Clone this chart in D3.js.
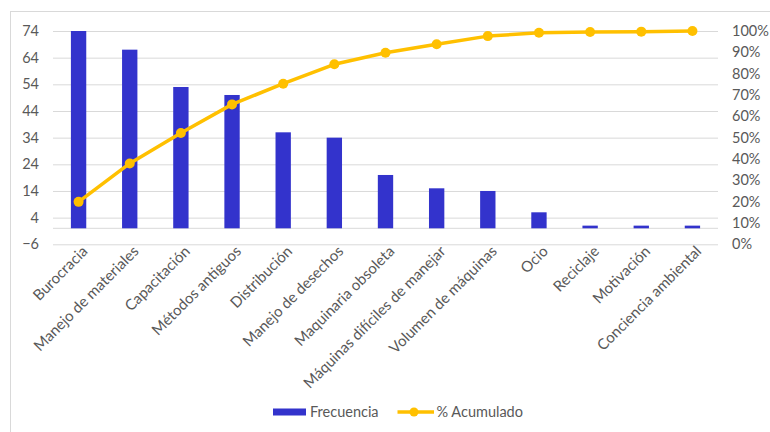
<!DOCTYPE html>
<html>
<head>
<meta charset="utf-8">
<script src="https://cdn.jsdelivr.net/npm/d3@7"></script>
<style>
  html, body { margin: 0; padding: 0; background: #fff; }
  svg { display: block; }
  text { font-family: Lato, "Liberation Sans", sans-serif; fill: #595959; }
</style>
</head>
<body>
<svg id="chart" width="770" height="432"></svg>
<script>
// Pareto data: causes, frequency and cumulative percentage
const categories = [
  "Burocracia", "Manejo de materiales", "Capacitación", "Métodos antiguos",
  "Distribución", "Manejo de desechos", "Maquinaria obsoleta",
  "Máquinas difíciles de manejar", "Volumen de máquinas", "Ocio",
  "Reciclaje", "Motivación", "Conciencia ambiental"
];
const frecuencia = [74, 67, 53, 50, 36, 34, 20, 15, 14, 6, 1, 1, 1];
const acumulado = [19.9, 37.9, 52.2, 65.6, 75.3, 84.4, 89.8, 93.8, 97.6, 99.2, 99.5, 99.7, 100];
const leftTicks = [-6, 4, 14, 24, 34, 44, 54, 64, 74];
const rightTicks = [0, 10, 20, 30, 40, 50, 60, 70, 80, 90, 100];

const svg = d3.select("#chart");
const plot = { left: 53, right: 718, top: 31, bottom: 244.3 };
const barColor = "#3333cc";
const lineColor = "#ffc000";
const gridColor = "#d9d9d9";
const axisFont = "14.5px";
const catFont = "15px";

// outer chart frame
svg.append("rect")
  .attr("x", 10.5).attr("y", 11.5)
  .attr("width", 800).attr("height", 500)
  .attr("fill", "none").attr("stroke", gridColor).attr("stroke-width", 1);

const x = d3.scaleBand()
  .domain(categories)
  .range([plot.left, plot.right])
  .paddingInner(0.7)
  .paddingOuter(0.35);

const y = d3.scaleLinear().domain([-6, 74]).range([plot.bottom, plot.top]);
const y2 = d3.scaleLinear().domain([0, 100]).range([plot.bottom, plot.top]);

// horizontal gridlines
const yAxis = d3.axisLeft(y)
  .tickValues(leftTicks)
  .tickSize(-(plot.right - plot.left))
  .tickPadding(14)
  .tickFormat(d3.format("d"));
const gy = svg.append("g")
  .attr("transform", `translate(${plot.left},0)`)
  .call(yAxis);
gy.select(".domain").remove();
gy.selectAll(".tick line").attr("stroke", gridColor).attr("stroke-width", 1);
gy.selectAll(".tick text")
  .style("font-size", axisFont)
  .attr("fill", "#595959");

// category axis line at zero
svg.append("line")
  .attr("x1", plot.left).attr("x2", plot.right)
  .attr("y1", y(0)).attr("y2", y(0))
  .attr("stroke", gridColor).attr("stroke-width", 1);

// secondary percentage axis
const y2Axis = d3.axisRight(y2)
  .tickValues(rightTicks)
  .tickSize(0)
  .tickPadding(14)
  .tickFormat(d => d + "%");
const gy2 = svg.append("g")
  .attr("transform", `translate(${plot.right},0)`)
  .call(y2Axis);
gy2.select(".domain").remove();
gy2.selectAll(".tick text")
  .style("font-size", axisFont)
  .attr("fill", "#595959");

// frequency bars
svg.append("g").selectAll("rect")
  .data(frecuencia)
  .join("rect")
  .attr("x", (d, i) => x(categories[i]))
  .attr("width", x.bandwidth())
  .attr("y", d => y(d))
  .attr("height", d => y(0) - y(d))
  .attr("fill", barColor);

// cumulative percentage line
const cx = (i) => x(categories[i]) + x.bandwidth() / 2;
svg.append("path")
  .datum(acumulado)
  .attr("fill", "none")
  .attr("stroke", lineColor)
  .attr("stroke-width", 3.5)
  .attr("stroke-linejoin", "round")
  .attr("d", d3.line().x((d, i) => cx(i)).y(d => y2(d)));

svg.append("g").selectAll("circle")
  .data(acumulado)
  .join("circle")
  .attr("cx", (d, i) => cx(i))
  .attr("cy", d => y2(d))
  .attr("r", 5)
  .attr("fill", lineColor);

// rotated category labels
svg.append("g").selectAll("text")
  .data(categories)
  .join("text")
  .attr("text-anchor", "end")
  .attr("transform", d => `translate(${x(d) + x.bandwidth() / 2 + 2},${plot.bottom}) rotate(-45)`)
  .attr("dy", "0.75em")
  .style("font-size", catFont)
  .text(d => d);

// legend
const legend = svg.append("g");
legend.append("rect")
  .attr("x", 273).attr("y", 408.5)
  .attr("width", 33).attr("height", 7)
  .attr("fill", barColor);
legend.append("text")
  .attr("x", 310).attr("y", 417)
  .style("font-size", axisFont)
  .text("Frecuencia");
legend.append("line")
  .attr("x1", 397.5).attr("x2", 434)
  .attr("y1", 412).attr("y2", 412)
  .attr("stroke", lineColor).attr("stroke-width", 3.5);
legend.append("circle")
  .attr("cx", 414).attr("cy", 412).attr("r", 4.5)
  .attr("fill", lineColor);
legend.append("text")
  .attr("x", 436.5).attr("y", 417)
  .style("font-size", axisFont)
  .text("% Acumulado");
</script>
</body>
</html>
